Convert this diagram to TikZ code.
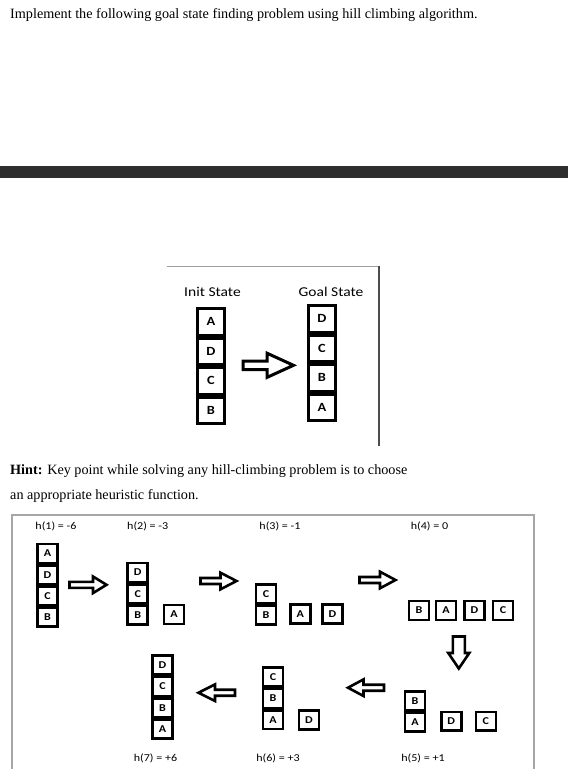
\documentclass[tikz,border=0pt]{standalone}
\usepackage{fontspec}
\setmainfont{Liberation Serif}
\newfontfamily\calib[FakeStretch=1.15]{Carlito}
\usepackage{tikz}
\usetikzlibrary{positioning}
\definecolor{barcol}{HTML}{2E2E2E}

\begin{document}
\begin{tikzpicture}[x=1pt, y=-1pt,
    bigcell/.style={draw, line width=3pt, outer sep=0pt, minimum width=27pt, minimum height=26.5pt, inner sep=0pt, font=\calib\fontsize{12.5}{14}\selectfont\bfseries},
    cell/.style={draw, line width=2.5pt, outer sep=0pt, minimum width=20pt, minimum height=18.8pt, inner sep=0pt, font=\calib\fontsize{10.5}{12}\selectfont\bfseries},
    hlabel/.style={anchor=base, inner sep=0pt, font=\calib\fontsize{10.5}{12}\selectfont},
    txt/.style={anchor=base west, inner sep=0pt, font=\fontsize{14.2}{17}\selectfont},
    barrow/.style={draw, line width=2.6pt, line join=miter, fill=white}]
    \useasboundingbox (0,0) rectangle (568,769);

    \node[txt] (title) at (10,18.5) {Implement the following goal state finding problem using hill climbing algorithm.};
    \fill[barcol] (0,166) rectangle (568,178);

    % init / goal
    \draw[gray!75, line width=1pt] (167,266) -- (379,266);
    \draw[black!70, line width=1.2pt] (379,266) -- (379,446);
    \node[anchor=base, inner sep=0pt, font=\calib\fontsize{13.5}{16}\selectfont] (init) at (212.5,296.5) {Init State};
    \node[anchor=base, inner sep=0pt, font=\calib\fontsize{13.5}{16}\selectfont] (goal) at (331,296.5) {Goal State};
    \node[bigcell] (i4) at (211,410.25) {B};
    \node[bigcell, above=3pt of i4] (i3) {C};
    \node[bigcell, above=3pt of i3] (i2) {D};
    \node[bigcell, above=3pt of i2] (i1) {A};
    \node[bigcell] (g4) at (322,407.25) {A};
    \node[bigcell, above=3pt of g4] (g3) {B};
    \node[bigcell, above=3pt of g3] (g2) {C};
    \node[bigcell, above=3pt of g2] (g1) {D};
    \draw[barrow, line width=3pt] (243.2,361) -- (267,361) -- (267,353.2) -- (293.5,365.3) -- (267,377.4) -- (267,369.6) -- (243.2,369.6) -- cycle;

    \node[txt] (hint) at (10,474.5) {\textbf{Hint:} Key point while solving any hill-climbing problem is to choose};
    \node[txt] (hint2) at (10,499.5) {an appropriate heuristic function.};

    % hill climbing steps
    \draw[gray!70, line width=1.2pt] (12,769) -- (12,515) -- (534,515) -- (534,769);
    \node[hlabel] (h1) at (56,529) {h(1) = -6};
    \node[hlabel] (h2) at (147.7,529) {h(2) = -3};
    \node[hlabel] (h3) at (280,529) {h(3) = -1};
    \node[hlabel] (h4) at (429.5,529) {h(4) = 0};
    \node[hlabel] (h7) at (155.5,761) {h(7) = +6};
    \node[hlabel] (h6) at (278,761) {h(6) = +3};
    \node[hlabel] (h5) at (423,761) {h(5) = +1};

    \node[cell] (p1b) at (47.5,617.3) {B};
    \node[cell, above=2.5pt of p1b] (p1c) {C};
    \node[cell, above=2.5pt of p1c] (p1d) {D};
    \node[cell, above=2.5pt of p1d] (p1a) {A};
    \draw[barrow] (69.5,581.8) -- (93,581.8) -- (93,576.5) -- (106.5,584.8) -- (93,593.1) -- (93,587.8) -- (69.5,587.8) -- cycle;

    \node[cell] (p2b) at (137.7,615) {B};
    \node[cell, above=2.5pt of p2b] (p2c) {C};
    \node[cell, above=2.5pt of p2c] (p2d) {D};
    \node[cell] (p2a) at (174,614.5) {A};
    \draw[barrow] (200.5,578) -- (220.5,578) -- (220.5,572.7) -- (236.5,581) -- (220.5,589.3) -- (220.5,584) -- (200.5,584) -- cycle;

    \node[cell] (p3b) at (266,615) {B};
    \node[cell, above=2.5pt of p3b] (p3c) {C};
    \node[cell] (p3a) at (300.3,614) {A};
    \node[cell] (p3d) at (332.5,614) {D};
    \draw[barrow] (359.5,577) -- (380,577) -- (380,571.7) -- (395.5,580) -- (380,588.3) -- (380,583) -- (359.5,583) -- cycle;

    \node[cell] (p4b) at (419,610.5) {B};
    \node[cell] (p4a) at (446,610.5) {A};
    \node[cell] (p4d) at (474.5,610.5) {D};
    \node[cell] (p4c) at (503,610.5) {C};
    \draw[barrow] (452.8,636.5) -- (452.8,653) -- (448.3,653) -- (458.8,668.5) -- (469.3,653) -- (464.8,653) -- (464.8,636.5) -- cycle;

    \node[cell] (p5a) at (415,722.3) {A};
    \node[cell, above=2.5pt of p5a] (p5b) {B};
    \node[cell] (p5d) at (451.3,721.3) {D};
    \node[cell] (p5c) at (485.8,721.3) {C};
    \draw[barrow] (384,684.7) -- (363.5,684.7) -- (363.5,679.4) -- (348,687.7) -- (363.5,696) -- (363.5,690.7) -- (384,690.7) -- cycle;

    \node[cell] (p6a) at (273,719.7) {A};
    \node[cell, above=2.5pt of p6a] (p6b) {B};
    \node[cell, above=2.5pt of p6b] (p6c) {C};
    \node[cell] (p6d) at (309,720) {D};
    \draw[barrow] (235,689.7) -- (215,689.7) -- (215,684.4) -- (198.5,692.7) -- (215,701) -- (215,695.7) -- (235,695.7) -- cycle;

    \node[cell] (p7a) at (162.5,729) {A};
    \node[cell, above=2.5pt of p7a] (p7b) {B};
    \node[cell, above=2.5pt of p7b] (p7c) {C};
    \node[cell, above=2.5pt of p7c] (p7d) {D};
\end{tikzpicture}
\end{document}
